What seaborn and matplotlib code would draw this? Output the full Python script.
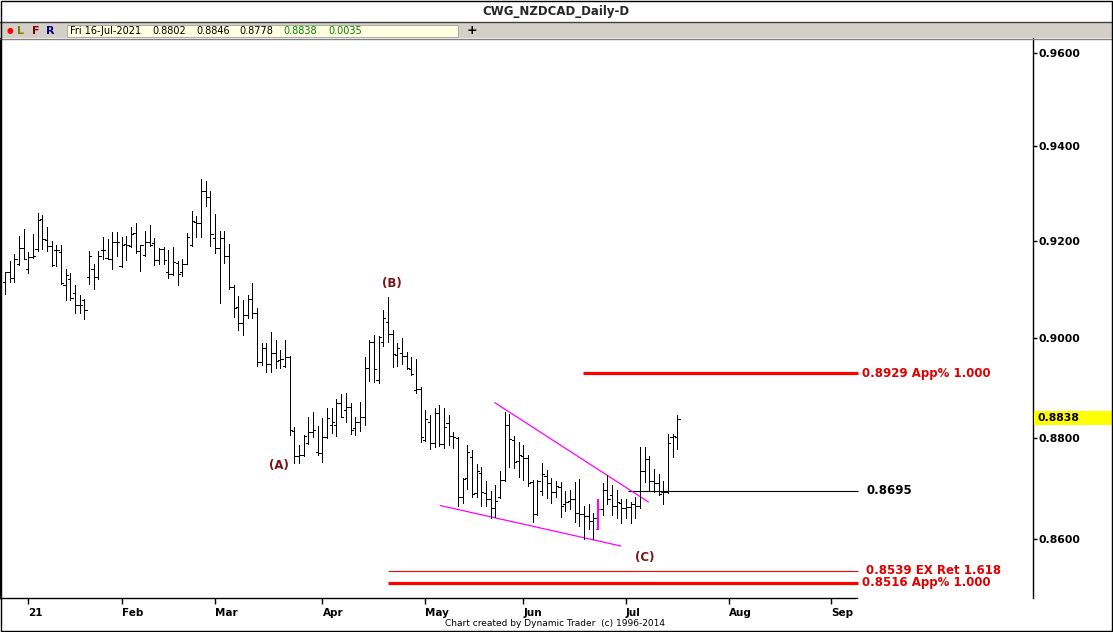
import numpy as np
import pandas as pd
import matplotlib
matplotlib.use("Agg")
import matplotlib.pyplot as plt
import seaborn as sns
from matplotlib.patches import Rectangle
from matplotlib.ticker import FixedLocator, NullLocator, FixedFormatter

# ---------------- data ----------------
opens = [0.9115, 0.9136, 0.9123, 0.9153, 0.9186, 0.9142, 0.9167, 0.9184, 0.9247, 0.9203,
         0.9190, 0.9182, 0.9178, 0.9109, 0.9121, 0.9092, 0.9068, 0.9078, 0.9125, 0.9142,
         0.9125, 0.9182, 0.9165, 0.9163, 0.9199, 0.9148, 0.9194, 0.9190, 0.9217, 0.9180,
         0.9171, 0.9199, 0.9196, 0.9161, 0.9184, 0.9136, 0.9132, 0.9155, 0.9136, 0.9153,
         0.9192, 0.9240, 0.9238, 0.9305, 0.9293, 0.9207, 0.9186, 0.9207, 0.9169, 0.9105,
         0.9064, 0.9032, 0.9048, 0.9080, 0.9052, 0.8951, 0.8981, 0.8947, 0.8971, 0.8955,
         0.8943, 0.8963, 0.8813, 0.8763, 0.8765, 0.8789, 0.8811, 0.8771, 0.8769, 0.8801,
         0.8825, 0.8825, 0.8870, 0.8856, 0.8862, 0.8819, 0.8832, 0.8842, 0.8939, 0.8993,
         0.8916, 0.8993, 0.9034, 0.9009, 0.8967, 0.8971, 0.8965, 0.8937, 0.8896, 0.8898,
         0.8795, 0.8832, 0.8789, 0.8850, 0.8787, 0.8829, 0.8803, 0.8799, 0.8682, 0.8720,
         0.8761, 0.8690, 0.8730, 0.8690, 0.8678, 0.8662, 0.8682, 0.8716, 0.8826, 0.8795,
         0.8753, 0.8763, 0.8759, 0.8712, 0.8650, 0.8694, 0.8724, 0.8710, 0.8692, 0.8702,
         0.8668, 0.8674, 0.8678, 0.8652, 0.8650, 0.8646, 0.8635, 0.8621, 0.8660, 0.8696,
         0.8686, 0.8666, 0.8670, 0.8662, 0.8664, 0.8668, 0.8666, 0.8734, 0.8757, 0.8714,
         0.8710, 0.8692, 0.8692, 0.8801, 0.8802]
highs = [0.9136, 0.9159, 0.9173, 0.9211, 0.9226, 0.9178, 0.9215, 0.9259, 0.9255, 0.9230,
         0.9201, 0.9192, 0.9192, 0.9142, 0.9134, 0.9109, 0.9088, 0.9080, 0.9180, 0.9153,
         0.9180, 0.9209, 0.9205, 0.9219, 0.9219, 0.9209, 0.9211, 0.9230, 0.9238, 0.9192,
         0.9222, 0.9234, 0.9207, 0.9186, 0.9188, 0.9182, 0.9188, 0.9159, 0.9163, 0.9217,
         0.9263, 0.9253, 0.9330, 0.9326, 0.9305, 0.9257, 0.9222, 0.9222, 0.9194, 0.9109,
         0.9086, 0.9079, 0.9088, 0.9113, 0.9062, 0.8991, 0.8991, 0.9013, 0.8997, 0.8977,
         0.8997, 0.8964, 0.8821, 0.8785, 0.8805, 0.8842, 0.8852, 0.8823, 0.8840, 0.8860,
         0.8860, 0.8878, 0.8888, 0.8890, 0.8870, 0.8842, 0.8872, 0.8963, 0.8997, 0.9007,
         0.9005, 0.9058, 0.9084, 0.9017, 0.8991, 0.9001, 0.8973, 0.8963, 0.8957, 0.8902,
         0.8856, 0.8846, 0.8860, 0.8866, 0.8860, 0.8846, 0.8811, 0.8801, 0.8720, 0.8785,
         0.8775, 0.8747, 0.8742, 0.8714, 0.8694, 0.8706, 0.8734, 0.8852, 0.8848, 0.8803,
         0.8791, 0.8785, 0.8765, 0.8716, 0.8716, 0.8749, 0.8736, 0.8720, 0.8714, 0.8712,
         0.8694, 0.8696, 0.8712, 0.8718, 0.8666, 0.8668, 0.8652, 0.8678, 0.8710, 0.8726,
         0.8706, 0.8696, 0.8678, 0.8678, 0.8672, 0.8682, 0.8781, 0.8781, 0.8763, 0.8738,
         0.8728, 0.8714, 0.8807, 0.8807, 0.8846]
lows = [0.9090, 0.9115, 0.9115, 0.9150, 0.9163, 0.9134, 0.9165, 0.9180, 0.9184, 0.9180,
        0.9148, 0.9148, 0.9111, 0.9079, 0.9079, 0.9052, 0.9052, 0.9040, 0.9111, 0.9102,
        0.9121, 0.9163, 0.9163, 0.9142, 0.9169, 0.9146, 0.9161, 0.9188, 0.9176, 0.9138,
        0.9169, 0.9190, 0.9150, 0.9153, 0.9153, 0.9123, 0.9130, 0.9109, 0.9128, 0.9152,
        0.9190, 0.9209, 0.9209, 0.9274, 0.9190, 0.9176, 0.9072, 0.9155, 0.9102, 0.9044,
        0.9017, 0.9007, 0.9042, 0.9042, 0.8943, 0.8945, 0.8931, 0.8931, 0.8939, 0.8939,
        0.8941, 0.8805, 0.8750, 0.8750, 0.8764, 0.8788, 0.8801, 0.8765, 0.8751, 0.8800,
        0.8809, 0.8803, 0.8842, 0.8832, 0.8807, 0.8805, 0.8813, 0.8826, 0.8914, 0.8912,
        0.8910, 0.8985, 0.8993, 0.8941, 0.8943, 0.8947, 0.8937, 0.8925, 0.8890, 0.8791,
        0.8793, 0.8777, 0.8781, 0.8783, 0.8779, 0.8785, 0.8779, 0.8666, 0.8670, 0.8698,
        0.8682, 0.8682, 0.8666, 0.8666, 0.8641, 0.8643, 0.8680, 0.8714, 0.8742, 0.8740,
        0.8722, 0.8716, 0.8704, 0.8633, 0.8648, 0.8686, 0.8680, 0.8670, 0.8682, 0.8643,
        0.8656, 0.8660, 0.8633, 0.8625, 0.8601, 0.8621, 0.8601, 0.8620, 0.8648, 0.8668,
        0.8648, 0.8641, 0.8631, 0.8641, 0.8631, 0.8641, 0.8662, 0.8712, 0.8696, 0.8692,
        0.8686, 0.8668, 0.8690, 0.8761, 0.8778]
closes = [0.9136, 0.9123, 0.9163, 0.9186, 0.9163, 0.9167, 0.9169, 0.9245, 0.9205, 0.9190,
          0.9150, 0.9182, 0.9113, 0.9130, 0.9082, 0.9068, 0.9068, 0.9058, 0.9169, 0.9125,
          0.9169, 0.9182, 0.9163, 0.9199, 0.9199, 0.9192, 0.9192, 0.9215, 0.9180, 0.9192,
          0.9199, 0.9192, 0.9161, 0.9184, 0.9161, 0.9132, 0.9157, 0.9132, 0.9153, 0.9209,
          0.9242, 0.9238, 0.9305, 0.9293, 0.9215, 0.9186, 0.9207, 0.9169, 0.9105, 0.9062,
          0.9032, 0.9048, 0.9080, 0.9052, 0.8951, 0.8981, 0.8947, 0.8971, 0.8953, 0.8957,
          0.8963, 0.8815, 0.8763, 0.8765, 0.8803, 0.8811, 0.8815, 0.8769, 0.8801, 0.8840,
          0.8832, 0.8870, 0.8842, 0.8862, 0.8815, 0.8832, 0.8842, 0.8939, 0.8993, 0.8937,
          0.9003, 0.9042, 0.9009, 0.8969, 0.8981, 0.8965, 0.8939, 0.8927, 0.8898, 0.8801,
          0.8838, 0.8789, 0.8850, 0.8787, 0.8821, 0.8803, 0.8801, 0.8682, 0.8718, 0.8771,
          0.8688, 0.8734, 0.8692, 0.8678, 0.8662, 0.8674, 0.8716, 0.8826, 0.8797, 0.8751,
          0.8765, 0.8759, 0.8710, 0.8650, 0.8714, 0.8728, 0.8710, 0.8692, 0.8704, 0.8666,
          0.8672, 0.8678, 0.8652, 0.8650, 0.8646, 0.8635, 0.8641, 0.8660, 0.8696, 0.8678,
          0.8666, 0.8672, 0.8662, 0.8664, 0.8668, 0.8666, 0.8734, 0.8757, 0.8714, 0.8710,
          0.8688, 0.8692, 0.8789, 0.8803, 0.8838]
highlight_bar = 127                      # bar drawn in magenta

month_tick_bars = [5, 25, 45, 68, 90, 111, 133, 155, 177]
month_labels = ["21", "Feb", "Mar", "Apr", "May", "Jun", "Jul", "Aug", "Sep"]
price_ticks = [0.86, 0.88, 0.90, 0.92, 0.94, 0.96]

level_values = [0.8929, 0.8695, 0.8539, 0.8516]
level_texts = ["0.8929 App% 1.000", "0.8695", "0.8539 EX Ret 1.618", "0.8516 App% 1.000"]
level_start = [123.8, 133.4, 82.0, 82.0]
level_end = 182.7
level_colors = ["#ff0000", "#000000", "#ff0000", "#ff0000"]
level_text_colors = ["#e00000", "#000000", "#e00000", "#e00000"]
level_widths = [2.3, 0.8, 0.8, 2.3]

upper_x = [104.9, 137.8]
upper_y = [0.8870, 0.8673]
lower_x = [93.2, 131.9]
lower_y = [0.8666, 0.8587]

wave_labels = ["(A)", "(B)", "(C)"]
wave_x = [58.7, 82.9, 137.1]
wave_y = [0.8744, 0.9113, 0.8565]

title = "CWG_NZDCAD_Daily-D"
info_date = "Fri 16-Jul-2021"
info_change = "0.0035"

# ---------------- figure ----------------
sns.set_theme(style="white")
plt.rcParams["font.family"] = ["DejaVu Sans"]

W, H = 1113, 632
fig = plt.figure(figsize=(W / 100, H / 100), dpi=100)
fig.patch.set_facecolor("white")

def fx(x):
    return x / W

def fy(y):
    return 1 - y / H

# plot area: x 0..1033 px, y 38..598 px
ax = fig.add_axes([0, fy(598), fx(1033), (598 - 38) / H])
ax.set_facecolor("white")

n = len(opens)
idx = np.arange(n)
px_per_bar = 4.669
x0 = -5 / px_per_bar
x1 = (1033 - 5) / px_per_bar
ax.set_xlim(x0, x1)
ax.set_yscale("log")
ax.set_ylim(0.96 * np.exp(-(598 - 53) / 4421), 0.96 * np.exp((53 - 38) / 4421))

colors = ["#ff00ff" if i == highlight_bar else "black" for i in idx]
widths = [1.2 if i == highlight_bar else 0.5 for i in idx]
tick_len = 0.48
ax.vlines(idx, lows, highs, colors=colors, linewidths=widths, antialiased=False, zorder=3)
ax.hlines(opens, idx - tick_len, idx, colors=colors, linewidths=0.5, antialiased=False, zorder=3)
ax.hlines(closes, idx, idx + tick_len, colors=colors, linewidths=0.5, antialiased=False, zorder=3)

# horizontal projection levels
for v, s, c, tc, w, t in zip(level_values, level_start, level_colors, level_text_colors,
                              level_widths, level_texts):
    ax.hlines(v, s, level_end, colors=c, linewidth=w, zorder=2)
    xt = (862 - 5) / px_per_bar if w > 1 else (866 - 5) / px_per_bar
    ax.text(xt, v, t, color=tc, fontsize=8.5, fontweight="bold", va="center", ha="left")

# magenta trend lines (seaborn)
trend = pd.DataFrame({
    "x": upper_x + lower_x,
    "y": upper_y + lower_y,
    "line": ["upper", "upper", "lower", "lower"],
})
sns.lineplot(data=trend, x="x", y="y", units="line", estimator=None,
             color="#ff00ff", linewidth=0.9, ax=ax, zorder=2, legend=False)
ax.set_xlabel("")
ax.set_ylabel("")

for t, x, y in zip(wave_labels, wave_x, wave_y):
    ax.text(x, y, t, color="#7a1515", fontsize=8.5, fontweight="bold", ha="center", va="center")

# axes styling
ax.spines["top"].set_visible(False)
for side in ["left", "right", "bottom"]:
    ax.spines[side].set_color("black")
    ax.spines[side].set_linewidth(1.0)
ax.spines["bottom"].set_bounds(x0, (857 - 5) / px_per_bar)

ax.yaxis.set_major_locator(FixedLocator(price_ticks))
ax.yaxis.set_major_formatter(FixedFormatter([f"{v:.4f}" for v in price_ticks]))
ax.yaxis.set_minor_locator(NullLocator())
ax.yaxis.tick_right()
ax.tick_params(axis="y", which="major", right=True, left=False, labelright=True, labelleft=False,
               direction="out", length=3, width=1, pad=1, labelsize=7.8, colors="black")
for lab in ax.get_yticklabels():
    lab.set_fontweight("bold")
    lab.set_color("#000000")

ax.xaxis.set_major_locator(FixedLocator(month_tick_bars))
ax.xaxis.set_major_formatter(FixedFormatter(month_labels))
ax.xaxis.set_minor_locator(NullLocator())
ax.tick_params(axis="x", which="major", bottom=True, direction="out", length=4, width=1,
               pad=3, labelsize=7.5, colors="black")
for lab in ax.get_xticklabels():
    lab.set_fontweight("bold")
    lab.set_ha("left")
ax.grid(False)

# cut the date axis at x=857 (clips 'Sep' like the source)
fig.add_artist(Rectangle((fx(856), fy(625)), fx(1032) - fx(856), fy(599) - fy(625),
                         transform=fig.transFigure, facecolor="white", edgecolor="none", zorder=20))

# last price highlight on the right axis
last = closes[-1]
fig.add_artist(Rectangle((fx(1034), fy(425)), fx(1113) - fx(1034), (425 - 411) / H,
                         transform=fig.transFigure, facecolor="#ffff00", edgecolor="none", zorder=21))
fig.text(fx(1037), fy(418), f"{last:.4f}", fontsize=7.8, fontweight="bold", color="black",
         va="center", ha="left", zorder=22)

# ---------------- header ----------------
fig.text(fx(556), fy(11), title, fontsize=8.5, fontweight="bold", ha="center", va="center")
fig.add_artist(Rectangle((0, fy(38)), 1, (38 - 22) / H, transform=fig.transFigure,
                         facecolor="#d4d0c8", edgecolor="none", zorder=1))
fig.add_artist(plt.Line2D([0, 1], [fy(22), fy(22)], transform=fig.transFigure,
                          color="#404040", linewidth=1.0, zorder=2))
fig.add_artist(plt.Line2D([0, 1], [fy(38.5), fy(38.5)], transform=fig.transFigure,
                          color="#808080", linewidth=1.0, zorder=2))
fig.add_artist(Rectangle((fx(67), fy(37)), fx(458) - fx(67), (37 - 24.5) / H,
                         transform=fig.transFigure, facecolor="#ffffe1", edgecolor="#a0a0a0",
                         linewidth=0.6, zorder=2))
fig.text(fx(9.5), fy(31), "●", color="#ff0000", fontsize=5.5, ha="center", va="center", zorder=3)
fig.text(fx(21), fy(31), "L", color="#808000", fontsize=8, fontweight="bold", ha="center", va="center", zorder=3)
fig.text(fx(36), fy(31), "F", color="#800000", fontsize=8, fontweight="bold", ha="center", va="center", zorder=3)
fig.text(fx(50), fy(31), "R", color="#000080", fontsize=8, fontweight="bold", ha="center", va="center", zorder=3)
info_items = [info_date, f"{opens[-1]:.4f}", f"{highs[-1]:.4f}", f"{lows[-1]:.4f}",
              f"{closes[-1]:.4f}", info_change]
info_pos = [70, 152, 196, 239, 283, 328]
info_cols = ["black", "black", "black", "black", "#008000", "#008000"]
for t, x, c in zip(info_items, info_pos, info_cols):
    fig.text(fx(x), fy(31), t, color=c, fontsize=7, ha="left", va="center", zorder=3)
fig.text(fx(472), fy(31), "+", color="black", fontsize=9, fontweight="bold", ha="center", va="center", zorder=3)

# footer
fig.text(fx(555), fy(624), "Chart created by Dynamic Trader  (c) 1996-2014", fontsize=6.5,
         ha="center", va="center", color="black", zorder=25)

# outer frame
fig.add_artist(Rectangle((0.0005, 0.001), 0.999, 0.998, transform=fig.transFigure,
                         facecolor="none", edgecolor="black", linewidth=1.0, zorder=30))

fig.savefig("out.png", dpi=100)
